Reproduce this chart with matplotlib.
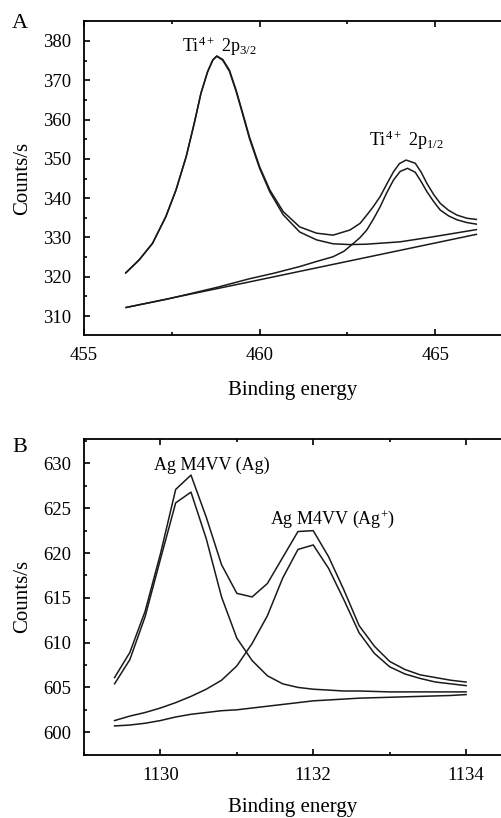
"""
XPS spectra: (A) Ti 2p region, (B) Ag M4VV Auger region.
Raw envelope, fitted components and background for each panel.

Output: out.png
"""

import matplotlib
matplotlib.use("Agg")
import matplotlib.pyplot as plt
from matplotlib.ticker import MultipleLocator

matplotlib.rcParams.update({
    "font.family": "serif",
    "font.serif": ["Liberation Serif", "DejaVu Serif"],
    "mathtext.fontset": "custom",
    "mathtext.rm": "Liberation Serif",
    "mathtext.default": "regular",
    "font.size": 13,
    "axes.linewidth": 1.3,
})

# ============================== DATA ==============================
# Panel A - Ti 2p
ti_env_x = [456.19, 456.57, 456.95, 457.33, 457.62, 457.91, 458.14, 458.33, 458.52,
            458.67, 458.78, 458.95, 459.14, 459.33, 459.52, 459.71, 460.0, 460.29,
            460.67, 461.14, 461.62, 462.09, 462.57, 462.86, 463.05, 463.24, 463.43,
            463.62, 463.81, 463.98, 464.17, 464.43, 464.6, 464.76, 464.95, 465.14,
            465.38, 465.62, 465.9, 466.17]
ti_env_y = [321.0, 324.3, 328.5, 335.3, 342.1, 350.6, 359.1, 366.7, 372.2,
            375.2, 376.2, 375.3, 372.6, 367.5, 361.6, 355.6, 348.0, 342.1,
            336.6, 332.7, 331.1, 330.6, 331.9, 333.6, 335.7, 337.9, 340.4,
            343.6, 346.7, 348.8, 349.7, 348.9, 346.6, 343.8, 341.0, 338.7,
            336.9, 335.7, 334.9, 334.6]

ti_p32_x = [456.19, 456.57, 456.95, 457.33, 457.62, 457.91, 458.14, 458.33, 458.52,
            458.67, 458.78, 458.95, 459.14, 459.33, 459.52, 459.71, 460.0, 460.29,
            460.67, 461.14, 461.62, 462.09, 462.57, 463.05, 464.0, 464.95, 466.17]
ti_p32_y = [321.0, 324.3, 328.5, 335.3, 342.1, 350.6, 359.1, 366.7, 372.2,
            375.2, 376.1, 375.1, 372.3, 367.2, 361.3, 355.2, 347.6, 341.6,
            335.8, 331.4, 329.4, 328.4, 328.2, 328.3, 328.9, 330.2, 332.0]

ti_p12_x = [456.2, 457.36, 458.78, 459.71, 460.4, 461.14, 461.62, 462.09, 462.4,
            462.67, 462.86, 463.05, 463.24, 463.43, 463.62, 463.81, 464.0, 464.21,
            464.43, 464.6, 464.76, 464.95, 465.14, 465.38, 465.62, 465.9, 466.17]
ti_p12_y = [312.2, 314.3, 317.3, 319.5, 320.9, 322.6, 323.9, 325.1, 326.5,
            328.5, 330.0, 331.9, 334.7, 337.8, 341.4, 344.6, 346.8, 347.6,
            346.6, 344.2, 341.7, 339.2, 337.0, 335.5, 334.5, 333.8, 333.4]

ti_bg_x = [456.2, 459.71, 466.17]
ti_bg_y = [312.2, 318.7, 330.8]

# Panel B - Ag M4VV
ag_energy = [1129.4, 1129.6, 1129.8, 1130.0, 1130.2, 1130.4, 1130.6, 1130.8,
             1131.0, 1131.2, 1131.4, 1131.6, 1131.8, 1132.0, 1132.2, 1132.4,
             1132.6, 1132.8, 1133.0, 1133.2, 1133.4, 1133.6, 1133.8, 1134.0]
ag_env = [606.1, 608.9, 613.5, 619.9, 627.1, 628.7, 624.0, 618.7,
          615.5, 615.1, 616.6, 619.5, 622.4, 622.5, 619.6, 615.9,
          611.9, 609.6, 607.9, 607.0, 606.4, 606.1, 605.8, 605.6]
ag_metal = [605.4, 608.1, 612.9, 619.3, 625.6, 626.8, 621.6, 615.1,
            610.5, 608.0, 606.3, 605.4, 605.0, 604.8, 604.7, 604.6,
            604.6, 604.55, 604.5, 604.5, 604.5, 604.5, 604.5, 604.5]
ag_ion = [601.3, 601.8, 602.2, 602.7, 603.3, 604.0, 604.8, 605.8,
          607.4, 609.9, 613.0, 617.2, 620.4, 620.9, 618.3, 614.8,
          611.1, 608.8, 607.3, 606.5, 606.0, 605.6, 605.4, 605.2]
ag_bg = [600.7, 600.8, 601.0, 601.3, 601.7, 602.0, 602.2, 602.4,
         602.5, 602.7, 602.9, 603.1, 603.3, 603.5, 603.6, 603.7,
         603.8, 603.85, 603.9, 603.95, 604.0, 604.05, 604.1, 604.2]
# ==================================================================

LINE = dict(color="#1a1a1a", lw=1.1)


def style_axes(ax, xmaj, xmin, ymaj, ymin, xlabelpad=12):
    ax.spines["right"].set_visible(False)
    ax.xaxis.set_major_locator(MultipleLocator(xmaj))
    ax.xaxis.set_minor_locator(MultipleLocator(xmin))
    ax.yaxis.set_major_locator(MultipleLocator(ymaj))
    ax.yaxis.set_minor_locator(MultipleLocator(ymin))
    ax.tick_params(which="both", direction="in", top=True, right=False, width=1.2)
    ax.tick_params(which="major", length=4.5, pad=9, labelsize=13.5)
    ax.tick_params(which="minor", length=2.5)
    ax.set_xlabel("Binding energy", fontsize=15, labelpad=xlabelpad)
    ax.set_ylabel("Counts/s", fontsize=15, labelpad=8)


def main():
    fig = plt.figure(figsize=(5.02, 8.18), dpi=100)

    # Panel A
    ax = fig.add_axes([0.1673, 0.5905, 0.8327, 0.3839])
    for xs, ys in [(ti_env_x, ti_env_y), (ti_p32_x, ti_p32_y),
                   (ti_p12_x, ti_p12_y), (ti_bg_x, ti_bg_y)]:
        ax.plot(xs, ys, **LINE)
    ax.set_xlim(455, 466.9)
    ax.set_ylim(305.2, 385.1)
    style_axes(ax, 5, 2.5, 10, 5)
    ax.text(457.8, 377.2, r"Ti$^{4+}$ 2p$_{3/2}$", fontsize=13, va="baseline")
    ax.text(463.1, 353.3, r"Ti$^{4+}$ 2p$_{1/2}$", fontsize=13, va="baseline")
    fig.text(0.024, 0.966, "A", fontsize=16)

    # Panel B
    ax = fig.add_axes([0.1673, 0.0775, 0.8327, 0.3855])
    for ys in [ag_env, ag_metal, ag_ion, ag_bg]:
        ax.plot(ag_energy, ys, **LINE)
    ax.set_xlim(1129.0, 1134.47)
    ax.set_ylim(597.5, 632.7)
    style_axes(ax, 2, 1, 5, 2.5, xlabelpad=10)
    ax.text(1129.92, 629.25, "Ag M4VV (Ag)", fontsize=13, va="baseline")
    ax.text(1131.43, 623.2, r"Ag M4VV (Ag$^{+}$)", fontsize=13, va="baseline")
    fig.text(0.024, 0.448, "B", fontsize=16)

    fig.savefig("out.png", dpi=100)
    plt.close(fig)


if __name__ == "__main__":
    main()
